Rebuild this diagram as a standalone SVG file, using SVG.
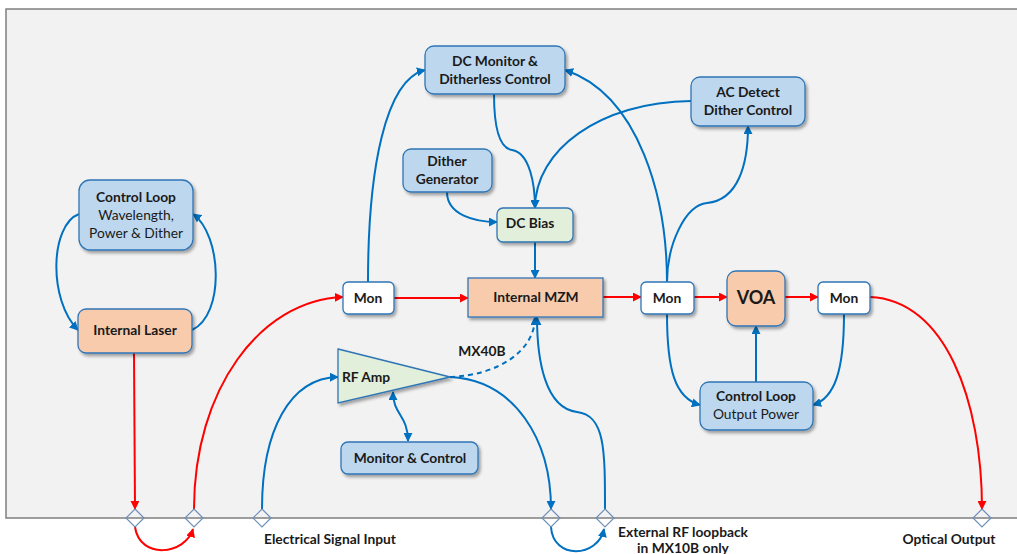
<svg xmlns="http://www.w3.org/2000/svg" width="1017" height="554" viewBox="0 0 1017 554">
<defs>
<style>
.bg{fill:#f2f2f2;stroke:#7f7f7f;stroke-width:1.5}
.blue{fill:#bdd7ee;stroke:#2e75b6;stroke-width:1.3}
.orange{fill:#f8cbad;stroke:#2e75b6;stroke-width:1.3}
.green{fill:#e2efda;stroke:#2e75b6;stroke-width:1.3}
.white{fill:#ffffff;stroke:#2e75b6;stroke-width:1.3}
.sh{filter:url(#shadow)}
text{font-family:Lato,"Liberation Sans",sans-serif;font-size:13.8px;fill:#1a1a1a;text-anchor:middle}
.b{font-weight:bold}
.c{stroke:#0070c0;stroke-width:2;fill:none}
.r{stroke:#ff0000;stroke-width:2;fill:none}
.d{stroke-dasharray:5,4}
.port{fill:none;stroke:#6d8fb8;stroke-width:1.2}
</style>
<filter id="shadow" x="-20%" y="-20%" width="140%" height="150%">
<feDropShadow dx="2" dy="2.5" stdDeviation="1.5" flood-color="#000" flood-opacity="0.35"/>
</filter>
<marker id="ab" viewBox="0 0 10 10" refX="9" refY="5" markerWidth="9" markerHeight="9" markerUnits="userSpaceOnUse" orient="auto-start-reverse">
<path d="M0,0 L10,5 L0,10 z" fill="#0070c0"/>
</marker>
<marker id="ar" viewBox="0 0 10 10" refX="9" refY="5" markerWidth="9" markerHeight="9" markerUnits="userSpaceOnUse" orient="auto">
<path d="M0,0 L10,5 L0,10 z" fill="#ff0000"/>
</marker>
</defs>

<rect class="bg" x="6" y="9" width="1030" height="509"/>

<g id="connectors">
<path class="c" d="M79,214 C50,225 48,300 78,330" marker-end="url(#ab)"/>
<path class="c" d="M192,330 C225,315 222,235 193,214" marker-end="url(#ab)"/>
<path class="r" d="M134,353 L135,509" marker-end="url(#ar)"/>
<path class="r" d="M135,527 C140,560 185,555 193,529" marker-end="url(#ar)"/>
<path class="r" d="M194,509 C194,390 260,300 343,297" marker-end="url(#ar)"/>
<path class="c" d="M262,509 C262,430 290,378 338,377" marker-end="url(#ab)"/>
<path class="r" d="M394,298 L468,298" marker-end="url(#ar)"/>
<path class="r" d="M603,297 L641,297" marker-end="url(#ar)"/>
<path class="r" d="M694,297 L727,297" marker-end="url(#ar)"/>
<path class="r" d="M785,297 L818,297" marker-end="url(#ar)"/>
<path class="r" d="M870,297 C945,300 982,400 982,509" marker-end="url(#ar)"/>
<path class="c" d="M368,282 C368,170 385,80 425,70" marker-end="url(#ab)"/>
<path class="c" d="M494,94 C494,125 498,148 512,150 C530,153 535,185 535,208" marker-end="url(#ab)"/>
<path class="c" d="M447,192 C447,215 475,222 497,222" marker-end="url(#ab)"/>
<path class="c" d="M691,101 C600,102 535,150 535,208" marker-end="url(#ab)"/>
<path class="c" d="M535,242 L535,278" marker-end="url(#ab)"/>
<path class="c" d="M667,282 C667,200 640,95 565,70" marker-end="url(#ab)"/>
<path class="c" d="M667,282 C667,245 685,205 707,203 C738,200 748,165 748,126" marker-end="url(#ab)"/>
<path class="c" d="M667,314 C667,370 675,398 700,405" marker-end="url(#ab)"/>
<path class="c" d="M844,314 C844,370 835,398 813,405" marker-end="url(#ab)"/>
<path class="c" d="M756,382 L756,326" marker-end="url(#ab)"/>
<path class="c" d="M393,392 C393,415 408,415 408,441" marker-start="url(#ab)" marker-end="url(#ab)"/>
<path class="c d" d="M450,377 C500,375 535,350 535,317" marker-end="url(#ab)"/>
<path class="c" d="M450,377 C515,380 551,440 551,509" marker-end="url(#ab)"/>
<path class="c" d="M605,509 C605,450 605,415 577,412 C545,408 537,360 537,317" marker-end="url(#ab)"/>
<path class="c" d="M551,527 C553,560 598,558 604,529" marker-end="url(#ab)"/>
</g>

<g id="ports">
<path class="port" d="M135,509 L144,518 L135,527 L126,518 Z"/>
<path class="port" d="M194,509 L203,518 L194,527 L185,518 Z"/>
<path class="port" d="M262,509 L271,518 L262,527 L253,518 Z"/>
<path class="port" d="M551,509 L560,518 L551,527 L542,518 Z"/>
<path class="port" d="M605,509 L614,518 L605,527 L596,518 Z"/>
<path class="port" d="M982,509 L991,518 L982,527 L973,518 Z"/>
</g>

<g id="control-loop-laser">
<rect class="blue sh" x="79" y="180" width="114" height="70" rx="11"/>
<text class="b" x="136" y="202">Control Loop</text>
<text x="136" y="220">Wavelength,</text>
<text x="136" y="238">Power &amp; Dither</text>
</g>
<g id="internal-laser">
<rect class="orange sh" x="78" y="309" width="114" height="44" rx="8"/>
<text class="b" x="135" y="335">Internal Laser</text>
</g>
<g id="mon1">
<rect class="white sh" x="343" y="282" width="51" height="32" rx="5"/>
<text class="b" x="368" y="303">Mon</text>
</g>
<g id="dc-monitor">
<rect class="blue sh" x="425" y="46" width="140" height="48" rx="9"/>
<text class="b" x="495" y="66">DC Monitor &amp;</text>
<text class="b" x="495" y="84">Ditherless Control</text>
</g>
<g id="dither-generator">
<rect class="blue sh" x="403" y="149" width="89" height="43" rx="8"/>
<text class="b" x="447" y="166">Dither</text>
<text class="b" x="447" y="184">Generator</text>
</g>
<g id="dc-bias">
<rect class="green sh" x="497" y="208" width="76" height="34" rx="6"/>
<text class="b" x="530" y="228">DC Bias</text>
</g>
<g id="internal-mzm">
<rect class="orange sh" x="468" y="278" width="135" height="39"/>
<text class="b" x="536" y="302">Internal MZM</text>
</g>
<g id="ac-detect">
<rect class="blue sh" x="691" y="77" width="114" height="49" rx="9"/>
<text class="b" x="748" y="97">AC Detect</text>
<text class="b" x="748" y="115">Dither Control</text>
</g>
<g id="mon2">
<rect class="white sh" x="641" y="282" width="53" height="32" rx="5"/>
<text class="b" x="667" y="303">Mon</text>
</g>
<g id="voa">
<rect class="orange sh" x="727" y="271" width="58" height="55" rx="9"/>
<text class="b" x="756" y="304" style="font-size:18px">VOA</text>
</g>
<g id="mon3">
<rect class="white sh" x="818" y="282" width="52" height="32" rx="5"/>
<text class="b" x="844" y="303">Mon</text>
</g>
<g id="control-loop-output">
<rect class="blue sh" x="700" y="382" width="113" height="48" rx="9"/>
<text class="b" x="756" y="401">Control Loop</text>
<text x="756" y="419">Output Power</text>
</g>
<g id="rf-amp">
<path class="green sh" d="M338,349 L450,377 L338,403 Z"/>
<text class="b" x="342" y="382" style="text-anchor:start">RF Amp</text>
</g>
<g id="monitor-control">
<rect class="blue sh" x="341" y="442" width="137" height="32" rx="7"/>
<text class="b" x="410" y="463">Monitor &amp; Control</text>
</g>

<g id="labels">
<text class="b" x="482" y="356">MX40B</text>
<text class="b" x="330" y="544">Electrical Signal Input</text>
<text class="b" x="683" y="537">External RF loopback</text>
<text class="b" x="683" y="553">in MX10B only</text>
<text class="b" x="949" y="544">Optical Output</text>
</g>
</svg>
